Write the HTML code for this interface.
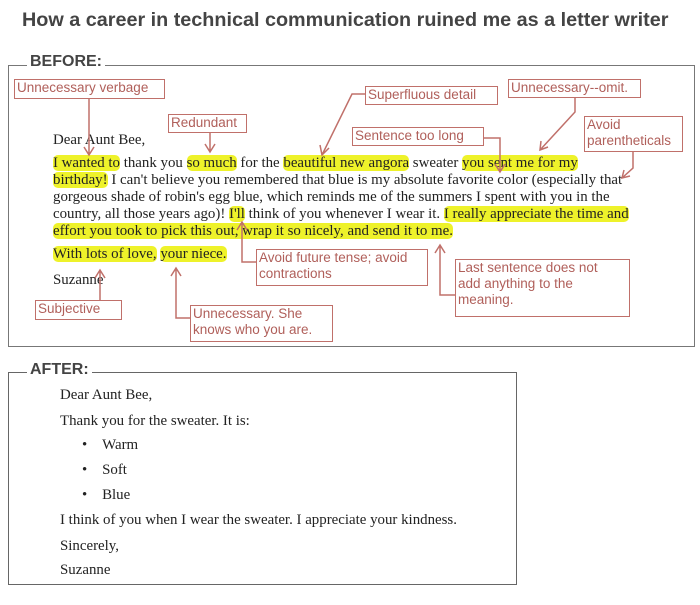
<!DOCTYPE html>
<html><head><meta charset="utf-8"><style>
body{margin:0;width:700px;height:605px;background:#fff;position:relative;overflow:hidden;font-family:"Liberation Sans",sans-serif}
.a{position:absolute;white-space:nowrap}
.t{font-weight:bold;font-size:19.8px;color:#444;left:22px;top:9px}
.frame{position:absolute;border:1px solid #666;}
.lab{position:absolute;background:#fff;font-weight:bold;font-size:16px;color:#444;padding:0 3px}
.box{position:absolute;border:1.5px solid #c0706a;color:#b05f5a;font-size:13.5px;line-height:16px;padding:0 2px;background:#fff;box-sizing:border-box}
.l{position:absolute;font-family:"Liberation Serif",serif;font-size:14.9px;color:#222;white-space:nowrap;line-height:17px}
.h{background:#eef22a;border-radius:5px}
</style></head><body>
<div class="a t">How a career in technical communication ruined me as a letter writer</div>
<div class="frame" style="left:8px;top:65px;width:685px;height:280px;border-color:#777"></div>
<div class="lab" style="left:27px;top:53px">BEFORE:</div>
<div class="frame" style="left:8px;top:372px;width:507px;height:211px"></div>
<div class="lab" style="left:27px;top:361px">AFTER:</div>

<div class="l" style="left:53px;top:132px">Dear Aunt Bee,</div>
<div class="l" style="left:53px;top:155px"><span class="h">I wanted to</span> thank you <span class="h">so much</span> for the <span class="h">beautiful new angora</span> sweater <span class="h">you sent me for my</span></div>
<div class="l" style="left:53px;top:172px"><span class="h">birthday!</span> I can't believe you remembered that blue is my absolute favorite color (especially that</div>
<div class="l" style="left:53px;top:189px">gorgeous shade of robin's egg blue, which reminds me of the summers I spent with you in the</div>
<div class="l" style="left:53px;top:206px">country, all those years ago)! <span class="h">I'll</span> think of you whenever I wear it. <span class="h">I really appreciate the time and</span></div>
<div class="l" style="left:53px;top:223px"><span class="h">effort you took to pick this out, wrap it so nicely, and send it to me.</span></div>
<div class="l" style="left:53px;top:246px"><span class="h">With lots of love,</span> <span class="h">your niece.</span></div>
<div class="l" style="left:53px;top:272px">Suzanne</div>

<svg class="a" style="left:0;top:0" width="700" height="605">
<g stroke="#c0706a" stroke-width="1.5" fill="none">
<path d="M89 98V155M84 147L89 155L94 147"/>
<path d="M210 132V152M205 144L210 152L215 144"/>
<path d="M365 94H352L322 155M320 145L322 155L329 148"/>
<path d="M575 97V112L540 150M541 141L540 150L548 147"/>
<path d="M484 138H500V172M495 164L500 172L505 164"/>
<path d="M633 151V168L622 178M624 170L622 178L630 176"/>
<path d="M256 262H242V222M237 230L242 222L247 230"/>
<path d="M455 295H440V245M435 253L440 245L445 253"/>
<path d="M100 300V270M95 278L100 270L105 278"/>
<path d="M190 318H176V268M171 276L176 268L181 276"/>
</g></svg>

<div class="box" style="left:14px;top:79px;width:151px;height:20px">Unnecessary verbage</div>
<div class="box" style="left:168px;top:114px;width:79px;height:19px">Redundant</div>
<div class="box" style="left:365px;top:86px;width:133px;height:19px">Superfluous detail</div>
<div class="box" style="left:508px;top:79px;width:133px;height:19px">Unnecessary--omit.</div>
<div class="box" style="left:352px;top:127px;width:132px;height:19px">Sentence too long</div>
<div class="box" style="left:584px;top:116px;width:99px;height:36px">Avoid<br>parentheticals</div>
<div class="box" style="left:256px;top:249px;width:172px;height:37px">Avoid future tense; avoid<br>contractions</div>
<div class="box" style="left:455px;top:259px;width:175px;height:58px">Last sentence does not<br>add anything to the<br>meaning.</div>
<div class="box" style="left:35px;top:300px;width:87px;height:20px">Subjective</div>
<div class="box" style="left:190px;top:305px;width:143px;height:37px">Unnecessary. She<br>knows who you are.</div>

<div class="l" style="left:60px;top:387px">Dear Aunt Bee,</div>
<div class="l" style="left:60px;top:413px">Thank you for the sweater. It is:</div>
<div class="l" style="left:82px;top:437px">•&nbsp;&nbsp;&nbsp;&nbsp;Warm</div>
<div class="l" style="left:82px;top:462px">•&nbsp;&nbsp;&nbsp;&nbsp;Soft</div>
<div class="l" style="left:82px;top:487px">•&nbsp;&nbsp;&nbsp;&nbsp;Blue</div>
<div class="l" style="left:60px;top:512px">I think of you when I wear the sweater. I appreciate your kindness.</div>
<div class="l" style="left:60px;top:538px">Sincerely,</div>
<div class="l" style="left:60px;top:562px">Suzanne</div>
</body></html>
